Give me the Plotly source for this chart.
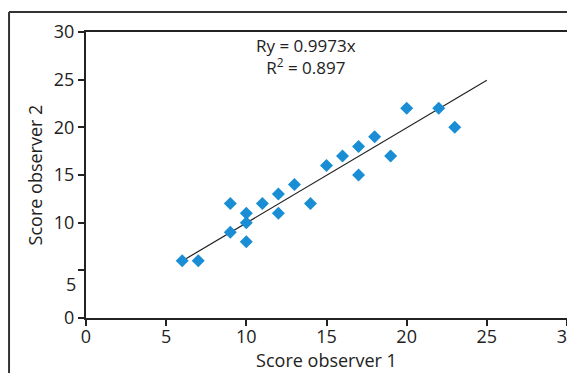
import plotly.graph_objects as go

obs1 = [6, 7, 9, 9, 10, 10, 10, 11, 12, 12, 13, 14, 15, 16, 17, 17, 18, 19, 20, 22, 23]
obs2 = [6, 6, 12, 9, 11, 10, 8, 12, 13, 11, 14, 12, 16, 17, 18, 15, 19, 17, 22, 22, 20]
slope = 0.9973
r2 = 0.897
fit_x = [6, 25]
fit_y = [slope * v for v in fit_x]
tick_vals = [0, 5, 10, 15, 20, 25, 30]
y_tick_text = ["0", " ", "10", "15", "20", "25", "30"]

FONT = "Open Sans"
FS = 18
fig = go.Figure()
fig.add_trace(go.Scatter(x=fit_x, y=fit_y, mode="lines",
                         line=dict(color="#222222", width=1.2), showlegend=False))
fig.add_trace(go.Scatter(x=obs1, y=obs2, mode="markers",
                         marker=dict(symbol="diamond", size=10, color="#1a8ed4"),
                         showlegend=False))

axis_common = dict(range=[0, 30], tickvals=tick_vals, ticks="outside", ticklen=6,
                   tickwidth=1.5, tickcolor="#222", showline=True, linecolor="#222",
                   linewidth=2, mirror=True, showgrid=False, zeroline=False,
                   ticklabeloverflow="allow", automargin=False,
                   tickfont=dict(family=FONT, size=FS, color="#222"))
fig.update_xaxes(**axis_common, ticklabelstandoff=-5,
                 title=dict(text="Score observer 1", standoff=3,
                            font=dict(family=FONT, size=FS, color="#222")))
fig.update_yaxes(**axis_common, ticktext=y_tick_text,
                 title=dict(text="Score observer 2", standoff=7,
                            font=dict(family=FONT, size=FS, color="#222")))

fig.add_annotation(x=0, y=3.6, xref="x", yref="y", text="5", showarrow=False,
                   xanchor="right", xshift=-8, font=dict(family=FONT, size=FS, color="#222"))
fig.add_annotation(x=13.7, y=27.4, xref="x", yref="y",
                   text=f"Ry = {slope}x<br>R<sup>2</sup> = {r2}", showarrow=False,
                   font=dict(family=FONT, size=17, color="#222"), align="center")

# outer frame (left and top)
fig.add_shape(type="line", xref="paper", yref="paper", x0=-0.160, x1=1.02, y0=1.070, y1=1.070,
              line=dict(color="#333", width=2))
fig.add_shape(type="line", xref="paper", yref="paper", x0=-0.160, x1=-0.160, y0=1.070, y1=-0.2,
              line=dict(color="#333", width=2))

fig.update_layout(width=567, height=365, margin=dict(l=78, r=8, t=24, b=55),
                  plot_bgcolor="white", paper_bgcolor="white")
fig.write_html("out.html")
